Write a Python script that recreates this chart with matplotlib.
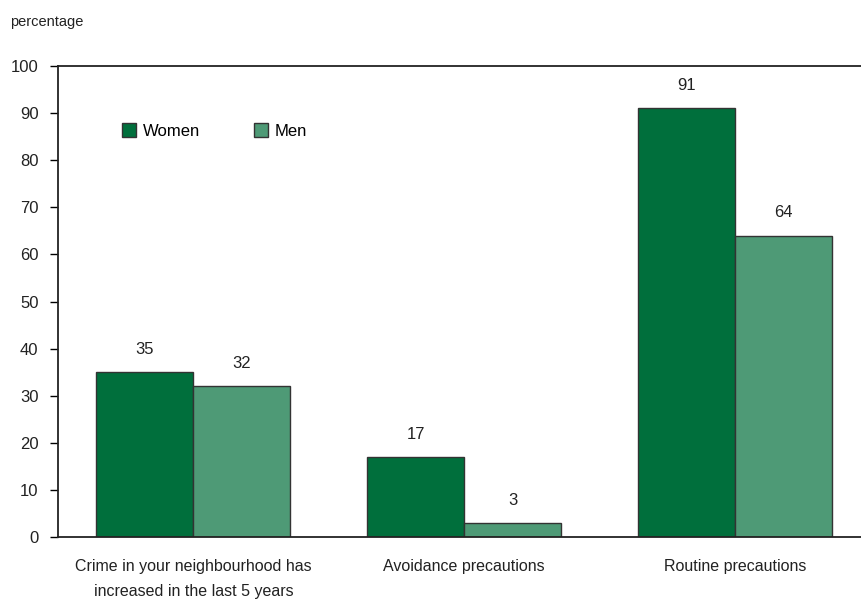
import numpy as np
import matplotlib.pyplot as plt

categories = ["Crime in your neighbourhood has\nincreased in the last 5 years",
              "Avoidance precautions",
              "Routine precautions"]
women = [35, 17, 91]
men = [32, 3, 64]

plt.rcParams['font.family'] = ['Liberation Sans', 'DejaVu Sans']

fig = plt.figure(figsize=(8.61, 6.03), dpi=100)
ax = fig.add_axes([0.0674, 0.1095, 0.9326, 0.781])

x = np.arange(len(categories))
w = 0.358
b1 = ax.bar(x - w/2, women, w, color='#006F3C', edgecolor='#333333', linewidth=1, label='Women')
b2 = ax.bar(x + w/2, men, w, color='#4E9A76', edgecolor='#333333', linewidth=1, label='Men')

for bars, vals in [(b1, women), (b2, men)]:
    for r, v in zip(bars, vals):
        ax.annotate(str(v), (r.get_x() + r.get_width()/2, v), xytext=(0, 11),
                    textcoords='offset points', ha='center', va='bottom', fontsize=12, color='#222222')

ax.set_xlim(-0.5, 2.465)
ax.set_ylim(0, 100)
ax.set_yticks(range(0, 101, 10))
ax.set_xticks(x)
ax.set_xticklabels(categories, fontsize=11.5, color='#222222', linespacing=1.85)
ax.tick_params(axis='x', length=0, pad=16)
ax.tick_params(axis='y', length=6, width=1, labelsize=12, labelcolor='#222222', pad=8)
for s in ['left', 'top', 'bottom']:
    ax.spines[s].set_color('#222222')
    ax.spines[s].set_linewidth(1.3)
ax.spines['right'].set_visible(False)

ax.legend(loc='center left', bbox_to_anchor=(0.061, 0.862), ncol=2, frameon=False,
          handlelength=0.85, handleheight=0.85, handletextpad=0.4, columnspacing=3.25,
          fontsize=12)

fig.text(0.012, 0.963, "percentage", fontsize=10.5, color='#222222', va='center')

fig.savefig('out.png', dpi=100)
